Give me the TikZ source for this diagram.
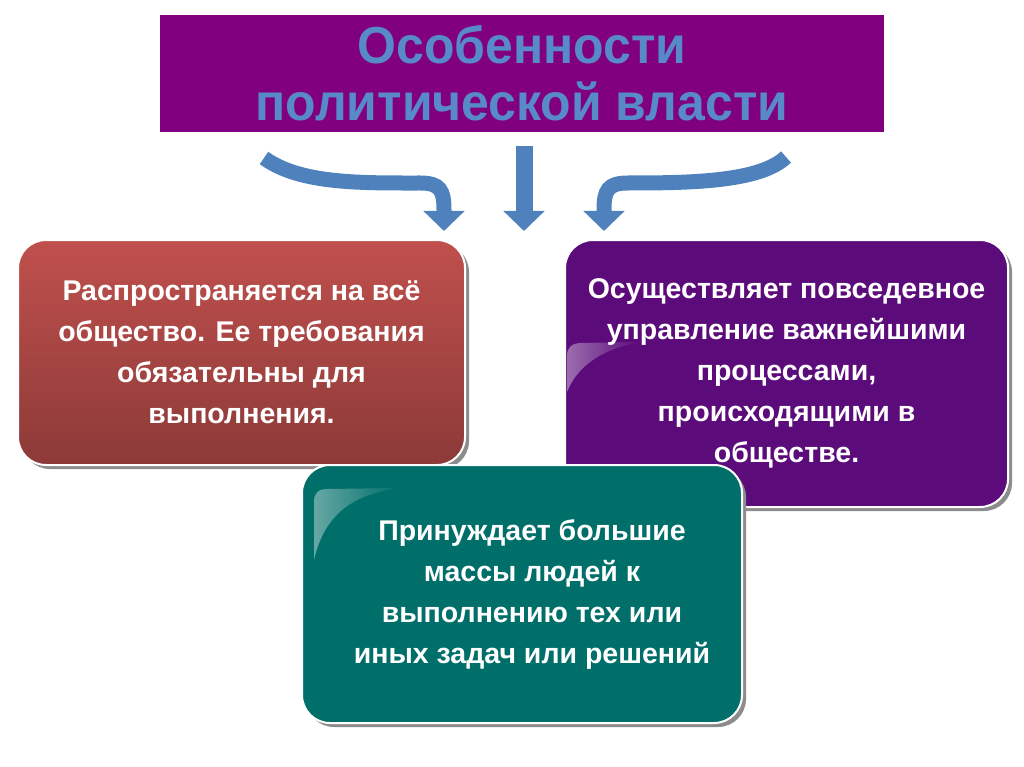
\documentclass[tikz,border=0pt]{standalone}
\usepackage{fontspec}
\setmainfont{Liberation Sans}
\newfontfamily\titlefont{Liberation Sans}[FakeStretch=0.96]
\usetikzlibrary{arrows.meta,shadows,fadings}
\definecolor{titlebg}{RGB}{128,0,128}
\definecolor{titletext}{RGB}{88,138,200}
\definecolor{arrowblue}{RGB}{79,129,189}
\definecolor{redtop}{RGB}{192,80,77}
\definecolor{redbot}{RGB}{140,58,56}
\definecolor{violetbox}{RGB}{92,12,122}
\definecolor{tealbox}{RGB}{0,110,105}

\begin{document}
\begin{tikzpicture}[x=1pt,y=-1pt,
  card/.style={draw=white,line width=2pt,rounded corners=28pt,
    drop shadow={shadow xshift=4pt,shadow yshift=-4pt,opacity=1,fill=black!45},
    text=white,align=center,inner sep=0pt,
    font=\fontsize{28.5}{41}\selectfont\bfseries},
  bluearrow/.style={draw=arrowblue,line width=15pt,-{Triangle[width=40pt,length=20pt]}},
  gloss/.style={fill=white,fill opacity=.4,path fading=east}]
\useasboundingbox (0,0) rectangle (1024,767);

% title
\node[fill=titlebg,minimum width=724pt,minimum height=117pt,inner sep=0pt,
  text=titletext,align=center,
  font=\titlefont\bfseries\fontsize{52}{57}\selectfont] (title) at (522,73.5)
  {Особенности\\политической власти};

% arrows
\coordinate (lt) at (264,158);
\coordinate (lh) at (444,231);
\coordinate (ct) at (524,146);
\coordinate (ch) at (524,231);
\coordinate (rt) at (786,157);
\coordinate (rh) at (604,231);
\draw[bluearrow] (lt) .. controls (300,184) and (360,183) .. (420,183)
  .. controls (440,183) and (444,190) .. (444,210) -- (lh);
\draw[bluearrow,line width=17pt] (ct) -- (ch);
\draw[bluearrow] (rt) .. controls (760,182) and (690,183) .. (628,183)
  .. controls (608,183) and (604,190) .. (604,210) -- (rh);

% boxes
\node[card,top color=redtop,bottom color=redbot,
  minimum width=447pt,minimum height=225pt] (society) at (241.5,352.5)
  {Распространяется на всё\\общество. Ее требования\\обязательны для\\выполнения.};
\node[card,fill=violetbox,minimum width=443pt,minimum height=267pt] (govern) at (786.5,373.5)
  {Осуществляет повседевное\\управление важнейшими\\процессами,\\происходящими в\\обществе.};
\fill[gloss] (567,392) -- (567,356) .. controls (567,347) and (572,343) .. (582,343)
  -- (640,342) .. controls (610,348) and (580,360) .. (567,392) -- cycle;
\node[card,fill=tealbox,minimum width=440pt,minimum height=258pt] (force) at (522,594)
  {\hspace*{20pt}Принуждает большие\\\hspace*{20pt}массы людей к\\\hspace*{20pt}выполнению тех или\\\hspace*{20pt}иных задач или решений};
\fill[gloss] (314,560) -- (314,502) .. controls (314,493) and (318,489) .. (328,489)
  -- (400,488) .. controls (355,494) and (325,512) .. (314,560) -- cycle;
\end{tikzpicture}
\end{document}
